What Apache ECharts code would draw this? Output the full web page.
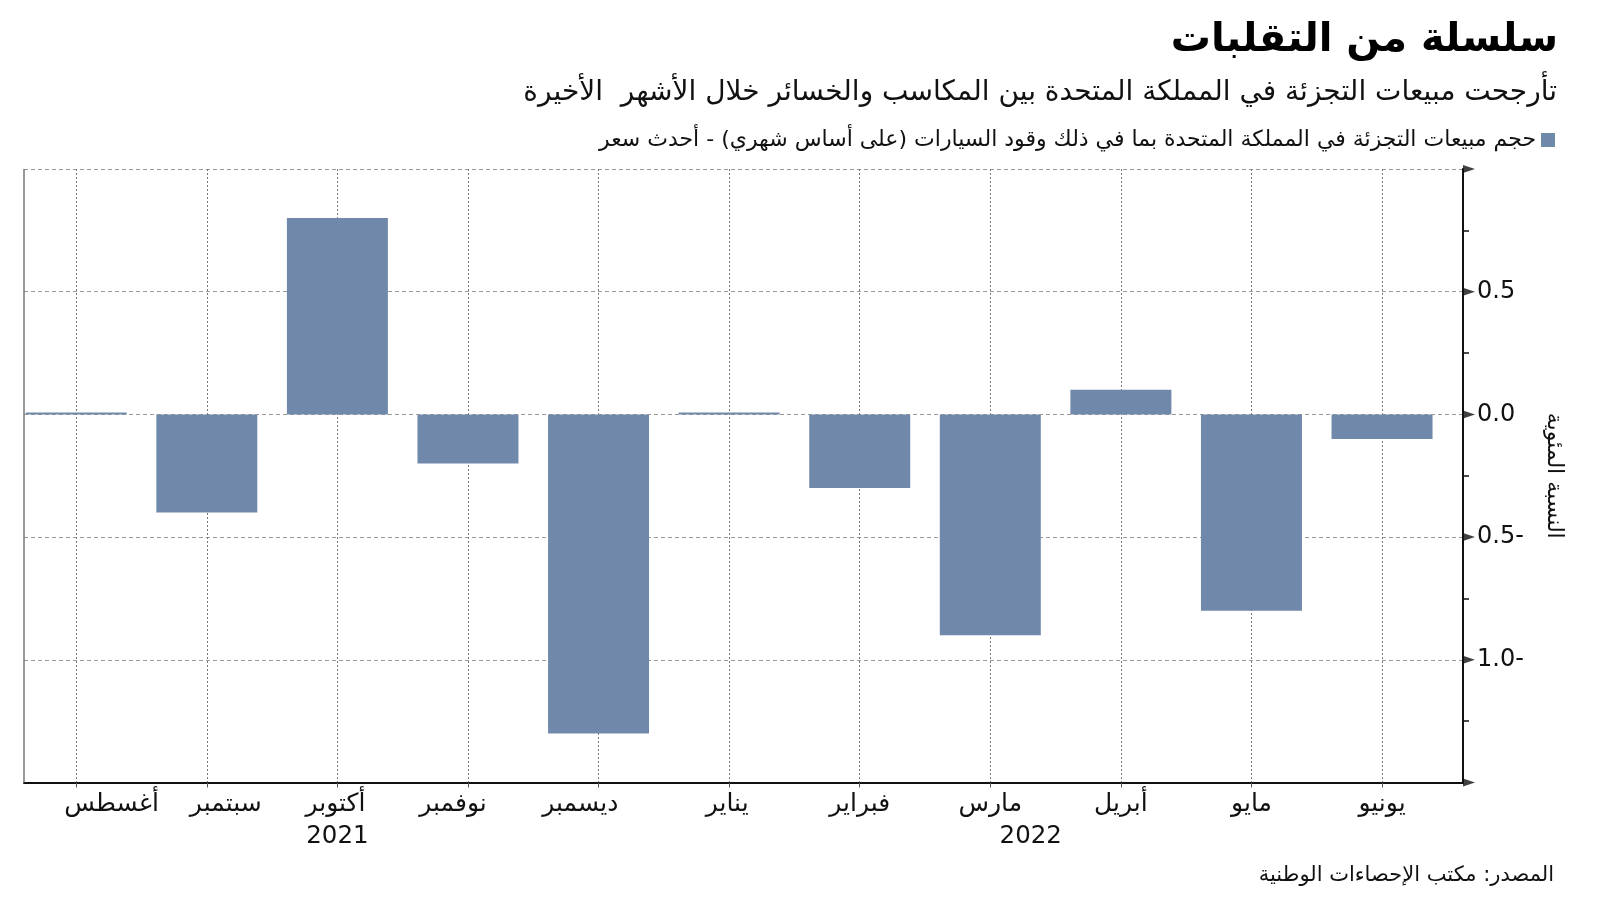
<!DOCTYPE html>
<html>
<head>
<meta charset="utf-8">
<script src="https://cdn.jsdelivr.net/npm/echarts@6/dist/echarts.min.js"></script>
<style>html,body{margin:0;padding:0;background:#fff}#c{width:1600px;height:901px}</style>
</head>
<body>
<div id="c"></div>
<script>
const months = ['أغسطس','سبتمبر','أكتوبر','نوفمبر','ديسمبر','يناير','فبراير','مارس','أبريل','مايو','يونيو'];
const salesChange = [0.0, -0.4, 0.8, -0.2, -1.3, 0.0, -0.3, -0.9, 0.1, -0.8, -0.1];
const monthLabelPositions = [0.27, 1.145, 1.985, 2.885, 3.86, 4.985, 6, 7, 8, 9, 10];
const yearLabels = ['2021', '2022'];
const yearPositions = [2, 7.31];
const yearDivider = [4];
const yTicks = [1.0, 0.5, 0.0, -0.5, -1.0, -1.5];

const titleText = 'سلسلة من التقلبات';
const subtitleText = 'تأرجحت مبيعات التجزئة في المملكة المتحدة بين المكاسب والخسائر خلال الأشهر  الأخيرة';
const seriesName = 'حجم مبيعات التجزئة في المملكة المتحدة بما في ذلك وقود السيارات (على أساس شهري) - أحدث سعر';
const yName = 'النسبة المئوية';
const sourceText = 'المصدر: مكتب الإحصاءات الوطنية';

const FONT = '"DejaVu Sans", sans-serif';
const BAR = '#7089ab';
const X_MIN = -0.4, X_MAX = 10.62;
const idx = months.map((m, i) => i);

const chart = echarts.init(document.getElementById('c'));
chart.setOption({
  animation: false,
  textStyle: { fontFamily: FONT },
  title: [
    { text: titleText, right: 37, top: 16, textStyle: { fontFamily: FONT, fontSize: 40, fontWeight: 'bold', color: '#000' } },
    { text: subtitleText, right: 38, top: 74, textStyle: { fontFamily: FONT, fontSize: 28, fontWeight: 'normal', color: '#111' } },
    { text: sourceText, right: 41, top: 860, textStyle: { fontFamily: FONT, fontSize: 21, fontWeight: 'normal', color: '#111' } }
  ],
  legend: {
    data: [seriesName], right: 40, top: 124, align: 'right',
    itemWidth: 14, itemHeight: 14, icon: 'rect', itemGap: 6,
    textStyle: { fontFamily: FONT, fontSize: 22, color: '#111' }
  },
  grid: { left: 24, right: 137, top: 169, bottom: 118.5 },
  xAxis: [
    {
      type: 'value', min: X_MIN, max: X_MAX, position: 'bottom',
      axisLine: { show: true, onZero: false, lineStyle: { color: '#111', width: 2 } },
      axisTick: { show: true, customValues: idx, length: 5, lineStyle: { color: '#555', width: 1 } },
      axisLabel: { customValues: monthLabelPositions, formatter: v => months[monthLabelPositions.indexOf(v)], fontFamily: FONT, fontSize: 25, color: '#111', margin: 9 },
      splitLine: { show: true, lineStyle: { color: '#777', type: [2, 2], width: 1 } }
    },
    {
      type: 'value', min: X_MIN, max: X_MAX, position: 'bottom', offset: 34,
      axisLine: { show: false },
      axisTick: { show: true, customValues: yearDivider, length: 34, lineStyle: { color: '#888', width: 1 } },
      axisLabel: { customValues: yearPositions, formatter: v => yearLabels[yearPositions.indexOf(v)], fontFamily: FONT, fontSize: 24.5, color: '#111', margin: 8 },
      splitLine: { show: false }
    }
  ],
  yAxis: {
    type: 'value', min: -1.5, max: 1.0, interval: 0.5, position: 'right',
    name: yName, nameLocation: 'middle', nameRotate: -90, nameGap: 80,
    nameTextStyle: { fontFamily: FONT, fontSize: 22, color: '#111' },
    axisLine: { show: true, onZero: false, lineStyle: { color: '#111', width: 2 } },
    axisTick: { show: false },
    minorTick: { show: true, splitNumber: 2, length: 6, lineStyle: { color: '#111', width: 1.5 } },
    axisLabel: {
      fontFamily: FONT, fontSize: 24, color: '#111', margin: 14,
      formatter: v => (v >= 1 || v <= -1.5) ? '' : (v < 0 ? Math.abs(v).toFixed(1) + '-' : v.toFixed(1))
    },
    splitLine: { show: true, lineStyle: { color: '#999', type: [4, 3], width: 1 } }
  },
  graphic: [],
  series: [
    {
      name: seriesName, type: 'bar', xAxisIndex: 0,
      data: salesChange.map((v, i) => [i, v]),
      barWidth: 101, barMinHeight: 2,
      itemStyle: { color: BAR }
    },
    {
      type: 'scatter', xAxisIndex: 0, clip: false, silent: true,
      data: yTicks.map(v => [X_MAX, v]),
      symbol: 'path://M0,0 L12,4 L0,8 Z', symbolSize: [12, 8], symbolOffset: [6, 0],
      itemStyle: { color: '#111' }, z: 5
    }
  ]
});
// left frame line of the plot area
const pTop = chart.convertToPixel({ yAxisIndex: 0 }, 1.0);
const pBot = chart.convertToPixel({ yAxisIndex: 0 }, -1.5);
const pLeft = chart.convertToPixel({ xAxisIndex: 0 }, X_MIN);
chart.setOption({ graphic: [{ type: 'line', shape: { x1: pLeft, y1: pTop, x2: pLeft, y2: pBot }, style: { stroke: '#777', lineWidth: 1.5 }, z: 10 }] });
</script>
</body>
</html>
